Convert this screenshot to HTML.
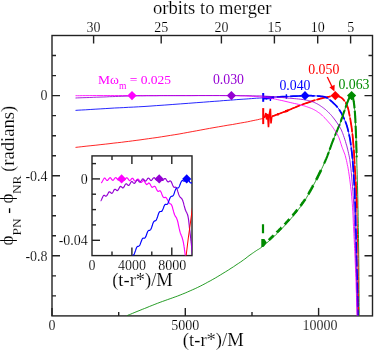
<!DOCTYPE html>
<html><head><meta charset="utf-8"><title>plot</title>
<style>
html,body{margin:0;padding:0;background:#fff;}
svg{display:block;font-family:"Liberation Serif",serif;will-change:transform;}
text[fill="#000"]{stroke:#fff;stroke-width:0.15px;}
</style></head><body>
<svg width="374" height="351" viewBox="0 0 374 351">
<rect width="374" height="351" fill="#fff"/>
<rect x="52" y="35.5" width="320.5" height="280.4" fill="none" stroke="#222" stroke-width="1.4"/>
<path d="M52 55.5 h4 M372.5 55.5 h-4" stroke="#222" stroke-width="1.4"/>
<path d="M52 75.6 h4 M372.5 75.6 h-4" stroke="#222" stroke-width="1.4"/>
<path d="M52 95.6 h8 M372.5 95.6 h-8" stroke="#222" stroke-width="1.4"/>
<path d="M52 115.6 h4 M372.5 115.6 h-4" stroke="#222" stroke-width="1.4"/>
<path d="M52 135.7 h4 M372.5 135.7 h-4" stroke="#222" stroke-width="1.4"/>
<path d="M52 155.7 h4 M372.5 155.7 h-4" stroke="#222" stroke-width="1.4"/>
<path d="M52 175.7 h8 M372.5 175.7 h-8" stroke="#222" stroke-width="1.4"/>
<path d="M52 195.8 h4 M372.5 195.8 h-4" stroke="#222" stroke-width="1.4"/>
<path d="M52 215.8 h4 M372.5 215.8 h-4" stroke="#222" stroke-width="1.4"/>
<path d="M52 235.8 h4 M372.5 235.8 h-4" stroke="#222" stroke-width="1.4"/>
<path d="M52 255.8 h8 M372.5 255.8 h-8" stroke="#222" stroke-width="1.4"/>
<path d="M52 275.9 h4 M372.5 275.9 h-4" stroke="#222" stroke-width="1.4"/>
<path d="M52 295.9 h4 M372.5 295.9 h-4" stroke="#222" stroke-width="1.4"/>
<path d="M52.0 315.9 v-8" stroke="#222" stroke-width="1.4"/>
<path d="M118.7 315.9 v-4" stroke="#222" stroke-width="1.4"/>
<path d="M185.3 315.9 v-8" stroke="#222" stroke-width="1.4"/>
<path d="M252.0 315.9 v-4" stroke="#222" stroke-width="1.4"/>
<path d="M318.6 315.9 v-8" stroke="#222" stroke-width="1.4"/>
<path d="M93.6 35.5 v8" stroke="#222" stroke-width="1.4"/>
<path d="M161.2 35.5 v8" stroke="#222" stroke-width="1.4"/>
<path d="M221.4 35.5 v8" stroke="#222" stroke-width="1.4"/>
<path d="M274.4 35.5 v8" stroke="#222" stroke-width="1.4"/>
<path d="M317.7 35.5 v8" stroke="#222" stroke-width="1.4"/>
<path d="M350.6 35.5 v8" stroke="#222" stroke-width="1.4"/>
<path d="M75.5 110.4 L78.1 110.2 L81.6 110.0 L85.7 109.8 L90.2 109.5 L95.1 109.2 L100.2 108.9 L105.2 108.6 L110.0 108.3 L114.6 108.0 L119.2 107.8 L123.7 107.6 L128.4 107.3 L133.3 107.1 L138.5 106.8 L144.0 106.5 L150.0 106.1 L156.7 105.6 L164.2 105.1 L172.2 104.5 L180.3 103.9 L188.5 103.3 L196.2 102.7 L203.3 102.2 L209.5 101.7 L214.8 101.3 L219.4 101.0 L223.4 100.6 L227.1 100.4 L230.5 100.1 L233.7 99.9 L236.8 99.6 L240.0 99.4 L243.1 99.2 L246.1 99.0 L248.8 98.8 L251.5 98.6 L254.1 98.4 L256.6 98.2 L259.3 98.1 L262.0 97.9 L264.8 97.7 L267.8 97.5 L270.7 97.4 L273.6 97.2 L276.6 97.0 L279.4 96.9 L282.3 96.7 L285.0 96.6 L287.7 96.5 L290.5 96.3 L293.2 96.2 L295.9 96.1 L298.4 96.0 L300.8 95.9 L303.0 95.9 L305.0 95.8 L306.7 95.8 L308.1 95.7 L309.3 95.7 L310.4 95.7 L311.3 95.7 L312.2 95.8 L313.1 95.8 L314.0 95.8 L314.9 95.8 L315.7 95.9 L316.5 95.9 L317.2 95.9 L317.9 96.0 L318.6 96.0 L319.3 96.1 L320.0 96.2 L320.7 96.3 L321.5 96.4 L322.2 96.4 L322.9 96.5 L323.7 96.6 L324.4 96.8 L325.2 97.1 L326.0 97.4 L326.8 97.8 L327.6 98.3 L328.5 98.9 L329.3 99.5 L330.2 100.2 L331.1 101.0 L331.9 101.7 L332.8 102.5 L333.7 103.3 L334.5 104.1 L335.4 105.0 L336.3 105.9 L337.1 106.9 L338.0 107.9 L338.8 109.0 L339.6 110.2 L340.4 111.5 L341.2 112.9 L342.0 114.4 L342.8 115.9 L343.6 117.5 L344.3 119.1 L345.0 120.7 L345.6 122.2 L346.2 123.7 L346.7 125.2 L347.1 126.6 L347.5 128.1 L347.9 129.6 L348.3 131.1 L348.6 132.6 L349.0 134.2 L349.3 135.8 L349.7 137.4 L350.0 139.1 L350.3 140.8 L350.5 142.5 L350.8 144.3 L351.0 146.1 L351.3 148.0 L351.5 149.9 L351.8 151.8 L352.0 153.8 L352.2 155.8 L352.4 157.9 L352.6 160.1 L352.8 162.5 L353.0 165.0 L353.2 167.7 L353.4 170.6 L353.6 173.6 L353.8 176.7 L354.0 179.9 L354.2 183.2 L354.4 186.6 L354.6 190.0 L354.8 193.5 L354.9 197.1 L355.0 200.9 L355.2 204.7 L355.3 208.5 L355.4 212.4 L355.5 216.2 L355.6 220.0 L355.7 223.7 L355.8 227.4 L355.9 231.0 L356.0 234.7 L356.0 238.4 L356.1 242.1 L356.2 246.0 L356.3 250.0 L356.4 254.2 L356.5 258.5 L356.7 263.0 L356.8 267.5 L356.9 272.0 L357.1 276.4 L357.2 280.8 L357.3 285.0 L357.4 289.2 L357.5 293.7 L357.6 298.1 L357.7 302.4 L357.7 306.5 L357.8 310.1 L357.9 313.2 L357.9 315.5" fill="none" stroke="#0000ff" stroke-width="0.85" />
<path d="M75.5 147.4 L78.2 147.1 L81.8 146.7 L86.1 146.2 L90.9 145.7 L95.9 145.2 L100.9 144.6 L105.7 144.1 L110.0 143.6 L113.9 143.1 L117.7 142.7 L121.4 142.3 L125.0 141.8 L128.6 141.4 L132.3 140.9 L136.1 140.4 L140.0 139.9 L144.1 139.3 L148.4 138.7 L152.7 138.1 L157.1 137.5 L161.5 136.8 L166.0 136.1 L170.4 135.4 L174.8 134.7 L179.1 134.0 L183.5 133.2 L187.8 132.4 L192.2 131.6 L196.5 130.8 L200.8 130.0 L205.2 129.2 L209.5 128.4 L214.0 127.6 L218.6 126.8 L223.3 126.0 L227.9 125.2 L232.5 124.5 L236.8 123.7 L240.7 123.0 L244.3 122.4 L247.5 121.8 L250.4 121.2 L253.1 120.6 L255.6 120.1 L257.7 119.7 L259.6 119.2 L261.2 118.9 L262.5 118.6 L263.0 118.4" fill="none" stroke="#ff0000" stroke-width="0.85" />
<path d="M127.3 315.5 L128.2 315.1 L129.4 314.6 L130.8 314.1 L132.4 313.4 L134.1 312.7 L136.0 311.9 L138.0 311.1 L140.0 310.3 L142.2 309.4 L144.5 308.5 L147.0 307.5 L149.6 306.4 L152.2 305.4 L154.9 304.3 L157.5 303.3 L160.1 302.3 L162.6 301.4 L165.1 300.5 L167.6 299.6 L170.2 298.7 L172.7 297.8 L175.2 296.9 L177.7 296.0 L180.2 295.0 L182.7 294.0 L185.2 293.0 L187.7 291.9 L190.2 290.8 L192.7 289.7 L195.2 288.6 L197.7 287.4 L200.2 286.2 L202.7 284.9 L205.2 283.6 L207.7 282.2 L210.2 280.9 L212.8 279.4 L215.3 278.0 L217.8 276.5 L220.3 275.0 L222.9 273.4 L225.5 271.8 L228.3 270.1 L231.0 268.3 L233.6 266.7 L236.0 265.0 L238.3 263.5 L240.3 262.2 L242.0 261.0 L243.5 259.9 L244.8 259.0 L246.0 258.1 L247.1 257.2 L248.0 256.5 L249.0 255.7 L250.0 255.0 L251.0 254.3 L251.9 253.7 L252.7 253.1 L253.5 252.6 L254.2 252.0 L255.0 251.6 L255.7 251.1 L256.4 250.6 L257.0 250.2 L257.6 249.8 L258.1 249.6 L258.6 249.3 L259.1 249.0 L259.7 248.5 L260.5 248.0 L261.4 247.3 L262.5 246.4 L263.8 245.4 L265.2 244.2 L266.6 243.0 L268.2 241.7 L269.7 240.4 L271.3 239.0 L272.8 237.6 L274.3 236.2 L275.8 234.7 L277.4 233.2 L278.9 231.7 L280.5 230.1 L282.0 228.5 L283.6 226.8 L285.1 225.2 L286.6 223.5 L288.2 221.8 L289.8 220.0 L291.3 218.2 L292.9 216.4 L294.4 214.6 L295.8 212.9 L297.1 211.2 L298.3 209.6 L299.5 208.1 L300.5 206.7 L301.6 205.3 L302.6 203.9 L303.6 202.4 L304.6 200.8 L305.6 199.2 L306.7 197.4 L307.7 195.6 L308.8 193.7 L309.9 191.8 L311.0 189.8 L312.1 187.8 L313.1 185.8 L314.2 183.8 L315.3 181.7 L316.4 179.5 L317.6 177.3 L318.7 175.0 L319.8 172.8 L320.8 170.6 L321.8 168.6 L322.7 166.7 L323.5 165.0 L324.1 163.6 L324.7 162.3 L325.3 161.0 L325.8 159.8 L326.3 158.5 L326.9 157.1 L327.5 155.5 L328.2 153.8 L328.8 151.9 L329.5 150.0 L330.3 148.0 L331.0 146.0 L331.7 144.0 L332.5 142.0 L333.2 140.0 L334.0 138.1 L334.8 136.1 L335.6 134.2 L336.4 132.2 L337.2 130.3 L338.0 128.4 L338.8 126.6 L339.5 124.8 L340.2 123.1 L340.8 121.4 L341.4 119.7 L341.9 118.1 L342.5 116.5 L343.0 114.9 L343.5 113.4 L344.0 112.0 L344.5 110.6 L345.0 109.2 L345.4 107.8 L345.9 106.5 L346.3 105.3 L346.7 104.1 L347.1 103.0 L347.5 102.0 L347.9 101.1 L348.2 100.3 L348.6 99.5 L348.9 98.9 L349.2 98.2 L349.5 97.7 L349.7 97.2 L350.0 96.8 L350.2 96.4 L350.5 96.1 L350.7 95.9 L350.9 95.7 L351.1 95.6 L351.2 95.6 L351.4 95.6 L351.6 95.6 L351.8 95.7 L352.0 95.8 L352.1 96.0 L352.3 96.3 L352.5 96.6 L352.7 97.0 L352.8 97.5 L353.0 98.0 L353.2 98.6 L353.3 99.4 L353.5 100.2 L353.6 101.1 L353.8 102.0 L353.9 103.0 L354.1 104.0 L354.2 105.0 L354.3 106.0 L354.4 107.1 L354.5 108.1 L354.6 109.2 L354.7 110.4 L354.8 111.6 L354.9 112.8 L355.0 114.0 L355.1 115.2 L355.2 116.3 L355.2 117.5 L355.3 118.6 L355.4 119.9 L355.4 121.4 L355.5 123.0 L355.6 125.0 L355.7 127.2 L355.8 129.5 L355.9 131.9 L356.0 134.6 L356.1 137.5 L356.2 140.6 L356.3 144.1 L356.4 148.0 L356.5 152.4 L356.7 157.4 L356.8 162.9 L357.0 168.6 L357.2 174.3 L357.3 179.9 L357.5 185.2 L357.6 190.0 L357.7 194.3 L357.8 198.3 L357.9 202.1 L357.9 205.8 L358.0 209.3 L358.1 212.8 L358.1 216.3 L358.2 220.0 L358.3 223.7 L358.3 227.4 L358.4 231.0 L358.5 234.7 L358.5 238.4 L358.6 242.1 L358.6 246.0 L358.7 250.0 L358.7 254.2 L358.8 258.5 L358.8 263.0 L358.9 267.5 L358.9 272.0 L358.9 276.4 L359.0 280.8 L359.0 285.0 L359.0 289.2 L359.1 293.7 L359.1 298.1 L359.1 302.4 L359.1 306.5 L359.2 310.1 L359.2 313.2 L359.2 315.5" fill="none" stroke="#008b00" stroke-width="0.85" />
<path d="M263.2 108.1 V124.1" stroke="#ff0000" stroke-width="2"/>
<path d="M264.3 118 L265.9 113 L266.6 119.5 L267.6 114 L268.5 127.3 L269.4 113.8 L270.4 108.7 L271 123.5 L271.8 116.5" fill="none" stroke="#ff0000" stroke-width="1.6" stroke-linejoin="miter"/>
<path d="M272.0 116.4 L273.0 116.0 L274.3 115.6 L275.8 115.0 L277.5 114.4 L279.3 113.7 L281.2 113.0 L283.1 112.3 L285.0 111.6 L286.9 110.9 L288.8 110.0 L290.8 109.2 L292.8 108.3 L294.9 107.5 L296.9 106.6 L299.0 105.8 L301.0 105.0 L303.0 104.2 L305.1 103.5 L307.2 102.8 L309.3 102.1 L311.4 101.4 L313.4 100.7 L315.3 100.1 L317.1 99.6 L318.8 99.1 L320.3 98.7 L321.8 98.3 L323.3 97.9 L324.6 97.6 L325.9 97.3 L327.1 97.1 L328.3 96.8 L329.4 96.6 L330.4 96.3 L331.4 96.1 L332.3 96.0 L333.1 95.8 L333.9 95.7 L334.6 95.6 L335.3 95.6 L335.9 95.6 L336.4 95.7 L336.9 95.7 L337.3 95.9 L337.7 96.0 L338.1 96.2 L338.5 96.4 L339.0 96.6 L339.5 96.8 L340.0 97.0 L340.5 97.2 L341.0 97.5 L341.5 97.8 L342.0 98.1 L342.5 98.6 L343.0 99.1 L343.5 99.7 L344.1 100.4 L344.7 101.2 L345.2 102.0 L345.8 102.9 L346.3 103.9 L346.8 104.9 L347.3 106.0 L347.7 107.2 L348.1 108.4 L348.4 109.7 L348.7 111.1 L349.0 112.5 L349.3 114.0 L349.6 115.5 L349.9 117.0 L350.2 118.6 L350.5 120.2 L350.7 121.8 L351.0 123.5 L351.3 125.2 L351.5 127.0 L351.8 128.8 L352.0 130.7 L352.2 132.7 L352.5 134.7 L352.7 136.7 L352.9 138.8 L353.1 141.0 L353.3 143.3 L353.5 145.6 L353.7 148.0 L353.9 150.5 L354.1 153.2 L354.2 156.0 L354.4 158.8 L354.5 161.7 L354.7 164.5 L354.8 167.3 L355.0 170.0 L355.2 172.5 L355.3 174.9 L355.5 177.2 L355.6 179.5 L355.8 181.9 L355.9 184.3 L356.1 187.0 L356.2 190.0 L356.3 193.3 L356.5 196.8 L356.6 200.5 L356.7 204.4 L356.8 208.3" fill="none" stroke="#ff0000" stroke-width="1.75" stroke-dasharray="14 2" />
<path d="M272.0 116.4 L273.0 116.0 L274.3 115.6 L275.8 115.0 L277.5 114.4 L279.3 113.7 L281.2 113.0 L283.1 112.3 L285.0 111.6 L286.9 110.9 L288.8 110.0 L290.8 109.2 L292.8 108.3 L294.9 107.5 L296.9 106.6 L299.0 105.8 L301.0 105.0 L303.0 104.2 L305.1 103.5 L307.2 102.8 L309.3 102.1 L311.4 101.4 L313.4 100.7 L315.3 100.1 L317.1 99.6 L318.8 99.1 L320.3 98.7 L321.8 98.3 L323.3 97.9 L324.6 97.6 L325.9 97.3 L327.1 97.1 L328.3 96.8 L329.4 96.6 L330.4 96.3 L331.4 96.1 L332.3 96.0 L333.1 95.8 L333.9 95.7 L334.6 95.6 L335.3 95.6 L335.9 95.6 L336.4 95.7 L336.9 95.7 L337.3 95.9 L337.7 96.0 L338.1 96.2 L338.5 96.4 L339.0 96.6 L339.5 96.8 L340.0 97.0 L340.5 97.2 L341.0 97.5 L341.5 97.8 L342.0 98.1 L342.5 98.6 L343.0 99.1 L343.5 99.7 L344.1 100.4 L344.7 101.2 L345.2 102.0 L345.8 102.9 L346.3 103.9 L346.8 104.9 L347.3 106.0 L347.7 107.2 L348.1 108.4 L348.4 109.7 L348.7 111.1 L349.0 112.5 L349.3 114.0 L349.6 115.5 L349.9 117.0 L350.2 118.6 L350.5 120.2 L350.7 121.8 L351.0 123.5 L351.3 125.2 L351.5 127.0 L351.8 128.8 L352.0 130.7 L352.2 132.7 L352.5 134.7 L352.7 136.7 L352.9 138.8 L353.1 141.0 L353.3 143.3 L353.5 145.6 L353.7 148.0 L353.9 150.5 L354.1 153.2 L354.2 156.0 L354.4 158.8 L354.5 161.7 L354.7 164.5 L354.8 167.3 L355.0 170.0 L355.2 172.5 L355.3 174.9 L355.5 177.2 L355.6 179.5 L355.8 181.9 L355.9 184.3 L356.1 187.0 L356.2 190.0 L356.3 193.3 L356.5 196.8 L356.6 200.5 L356.7 204.4 L356.8 208.3 L356.9 212.3 L357.0 216.2 L357.1 220.0 L357.2 223.7 L357.3 227.4 L357.4 231.0 L357.5 234.7 L357.6 238.4 L357.6 242.1 L357.7 246.0 L357.8 250.0 L357.9 254.2 L357.9 258.5 L358.0 263.0 L358.1 267.5 L358.1 272.0 L358.2 276.4 L358.2 280.8 L358.3 285.0 L358.3 289.2 L358.4 293.7 L358.4 298.1 L358.5 302.4 L358.5 306.5 L358.6 310.1 L358.6 313.2 L358.6 315.5" fill="none" stroke="#ff0000" stroke-width="1" />
<path d="M278 113 V115.6 M285.8 110 V112.6 M287.4 109.4 V112" stroke="#ff0000" stroke-width="1.6"/>
<path d="M263.2 93 V101.8" stroke="#0000ff" stroke-width="2"/>
<path d="M263.2 97.9 L264.8 97.7 L267.8 97.5 L270.7 97.4 L273.6 97.2 L276.6 97.0 L279.4 96.9 L282.3 96.7 L285.0 96.6 L287.7 96.5 L290.5 96.3 L293.2 96.2 L295.9 96.1 L298.4 96.0 L300.8 95.9 L303.0 95.9 L305.0 95.8 L306.7 95.8 L308.1 95.7 L309.3 95.7 L310.4 95.7 L311.3 95.7 L312.2 95.8 L313.1 95.8 L314.0 95.8 L314.9 95.8 L315.7 95.9 L316.5 95.9 L317.2 95.9 L317.9 96.0 L318.6 96.0 L319.3 96.1 L320.0 96.2 L320.7 96.3 L321.5 96.4 L322.2 96.4 L322.9 96.5 L323.7 96.6 L324.4 96.8 L325.2 97.1 L326.0 97.4 L326.8 97.8 L327.6 98.3 L328.5 98.9 L329.3 99.5 L330.2 100.2 L331.1 101.0 L331.9 101.7 L332.8 102.5 L333.7 103.3 L334.5 104.1 L335.4 105.0 L336.3 105.9 L337.1 106.9 L338.0 107.9 L338.8 109.0 L339.6 110.2 L340.4 111.5 L341.2 112.9 L342.0 114.4 L342.8 115.9 L343.6 117.5 L344.3 119.1 L345.0 120.7 L345.6 122.2 L346.2 123.7 L346.7 125.2 L347.1 126.6 L347.5 128.1 L347.9 129.6 L348.3 131.1 L348.6 132.6 L349.0 134.2 L349.3 135.8 L349.7 137.4 L350.0 139.1 L350.3 140.8 L350.5 142.5 L350.8 144.3 L351.0 146.1 L351.3 148.0 L351.5 149.9 L351.8 151.8 L352.0 153.8 L352.2 155.8 L352.4 157.9 L352.6 160.1 L352.8 162.5 L353.0 165.0 L353.2 167.7 L353.4 170.6 L353.6 173.6 L353.8 176.7 L354.0 179.9 L354.2 183.2 L354.4 186.6 L354.6 190.0 L354.8 193.5 L354.9 197.1 L355.0 200.9 L355.2 204.7 L355.3 208.5 L355.4 212.4 L355.5 216.2 L355.6 220.0 L355.7 223.7 L355.8 227.4 L355.9 231.0 L356.0 234.7 L356.0 238.4 L356.1 242.1 L356.2 246.0 L356.3 250.0 L356.4 254.2 L356.5 258.5 L356.7 263.0 L356.8 267.5 L356.9 272.0 L357.1 276.4 L357.2 280.8 L357.3 285.0 L357.4 289.2 L357.5 293.7 L357.6 298.1 L357.7 302.4 L357.7 306.5 L357.8 310.1 L357.9 313.2 L357.9 315.5" fill="none" stroke="#0000ff" stroke-width="1.75" stroke-dasharray="11 2.5" />
<path d="M270.4 97 V101 M286.4 94.2 V98.8 M266.5 96.5 V99.6" stroke="#0000ff" stroke-width="1.4"/>
<path d="M263.2 98 L274 97.5" stroke="#0000ff" stroke-width="2.8"/>
<path d="M263 224.2 V233.3 M263 239.5 V246" stroke="#008b00" stroke-width="2.2"/>
<polygon points="261.3,239 264.4,239 266.8,242.4 263.8,246.8 261.3,247.2" fill="#008b00"/>
<path d="M268.8 240.1 L269.0 239.9 L269.3 239.6 L269.5 239.4 L269.8 239.1 L270.0 238.9 L270.3 238.6 L270.6 238.4 L270.8 238.1 L271.1 237.8 L271.4 237.5 L271.7 237.2 L272.1 236.9 L272.4 236.6 L272.8 236.2 L273.2 235.8 L273.6 235.4 L273.7 235.3" fill="none" stroke="#008b00" stroke-width="2.6" />
<path d="M276.7 232.5 L277.0 232.1 L277.6 231.6 L278.1 231.1 L278.6 230.6 L279.2 230.0 L279.7 229.5 L280.3 228.9 L280.8 228.4 L281.3 227.8 L281.6 227.6" fill="none" stroke="#008b00" stroke-width="2.6" />
<path d="M284.6 224.4 L284.8 224.2 L285.4 223.6 L285.9 223.0 L286.5 222.3 L287.1 221.7 L287.7 221.1 L288.3 220.4 L288.8 219.8 L289.4 219.2 L289.5 219.1" fill="none" stroke="#008b00" stroke-width="2.6" />
<path d="M292.5 215.6 L293.0 215.1 L293.4 214.5 L293.9 213.9 L294.4 213.4 L294.9 212.8 L295.4 212.2 L295.9 211.6 L296.3 211.0 L296.8 210.4 L297.3 209.8 L297.4 209.7" fill="none" stroke="#008b00" stroke-width="2.6" />
<path d="M300.4 205.9 L300.7 205.5 L301.2 204.9 L301.7 204.2 L302.1 203.6 L302.6 202.9 L303.1 202.3 L303.6 201.6 L304.1 200.9 L304.6 200.1 L305.1 199.4 L305.3 199.1" fill="none" stroke="#008b00" stroke-width="2.6" />
<path d="M308.3 194.2 L308.8 193.4 L309.3 192.4 L309.9 191.5 L310.4 190.5 L310.9 189.6 L311.5 188.6 L312.0 187.6 L312.6 186.6 L313.1 185.6 L313.2 185.5" fill="none" stroke="#008b00" stroke-width="2.6" />
<path d="M316.2 179.8 L316.4 179.4 L317.0 178.3 L317.6 177.2 L318.1 176.0 L318.7 174.9 L319.2 173.8 L319.8 172.7 L320.3 171.6 L320.8 170.6 L321.1 170.0" fill="none" stroke="#008b00" stroke-width="2.6" />
<path d="M324.1 163.6 L324.4 162.9 L324.7 162.3 L325.0 161.6 L325.3 161.0 L325.5 160.4 L325.8 159.8 L326.1 159.1 L326.3 158.5 L326.6 157.8 L326.9 157.1 L327.2 156.3 L327.5 155.5 L327.8 154.6 L328.2 153.8 L328.5 152.9 L328.8 151.9 L329.2 151.0 L329.5 150.0 L329.9 149.0 L330.3 148.0 L330.6 147.0 L331.0 146.0 L331.3 145.0 L331.7 144.0 L332.1 142.9 L332.5 142.0 L332.8 141.0 L333.2 140.0 L333.6 139.0 L334.0 138.1 L334.4 137.1 L334.8 136.1 L335.2 135.1 L335.6 134.2 L336.0 133.2 L336.4 132.2 L336.8 131.3 L337.2 130.3 L337.6 129.4 L338.0 128.4 L338.4 127.5 L338.8 126.6 L339.2 125.7 L339.5 124.8 L339.8 123.9 L340.2 123.1 L340.5 122.2 L340.8 121.4 L341.1 120.5 L341.4 119.7 L341.6 118.9 L341.9 118.1 L342.2 117.3 L342.5 116.5 L342.7 115.7 L343.0 114.9 L343.2 114.2 L343.5 113.4 L343.7 112.7 L344.0 112.0 L344.2 111.3 L344.5 110.6 L344.7 109.9 L345.0 109.2 L345.2 108.5 L345.4 107.8 L345.7 107.2 L345.9 106.5 L346.1 105.9 L346.3 105.3 L346.5 104.7 L346.7 104.1 L346.9 103.5 L347.1 103.0 L347.3 102.5 L347.5 102.0 L347.7 101.5 L347.9 101.1 L348.0 100.7 L348.2 100.3 L348.4 99.9 L348.6 99.5 L348.7 99.2 L348.9 98.9 L349.0 98.5 L349.2 98.2 L349.3 98.0 L349.5 97.7 L349.6 97.5 L349.7 97.2 L349.9 97.0 L350.0 96.8 L350.1 96.6 L350.2 96.4 L350.4 96.3 L350.5 96.1 L350.6 96.0 L350.7 95.9 L350.8 95.8 L350.9 95.7 L351.0 95.7 L351.1 95.6 L351.1 95.6 L351.2 95.6 L351.3 95.5 L351.4 95.6 L351.5 95.6 L351.6 95.6 L351.7 95.6 L351.8 95.7 L351.9 95.8 L352.0 95.8 L352.1 95.9 L352.1 96.0 L352.2 96.2 L352.3 96.3 L352.4 96.4 L352.5 96.6 L352.6 96.8 L352.7 97.0 L352.8 97.2 L352.8 97.5 L352.9 97.7 L353.0 98.0 L353.1 98.3 L353.2 98.6 L353.2 99.0 L353.3 99.4 L353.4 99.8 L353.5 100.2 L353.6 100.6 L353.6 101.1 L353.7 101.6 L353.8 102.0 L353.9 102.5 L353.9 103.0 L354.0 103.5 L354.1 104.0 L354.1 104.5 L354.2 105.0 L354.3 105.5 L354.3 106.0 L354.4 106.5 L354.4 107.1 L354.5 107.6 L354.5 108.1 L354.6 108.7 L354.6 109.2 L354.7 109.8 L354.7 110.4 L354.8 111.0 L354.8 111.6 L354.9 112.2 L354.9 112.8 L355.0 113.4 L355.0 114.0 L355.0 114.6 L355.1 115.2 L355.1 115.8 L355.2 116.3 L355.2 116.9 L355.2 117.5 L355.3 118.0 L355.3 118.6 L355.3 119.2 L355.4 119.9 L355.4 120.6 L355.4 121.4 L355.5 122.2 L355.5 123.0 L355.6 124.0 L355.6 125.0 L355.6 126.1 L355.7 127.2 L355.7 128.3 L355.8 129.5 L355.8 130.7 L355.9 131.9 L355.9 133.2 L356.0 134.6 L356.0 136.0 L356.1 137.5 L356.1 139.0 L356.2 140.6 L356.2 142.3 L356.3 144.1 L356.3 146.0 L356.4 148.0 L356.5 150.1 L356.5 152.4 L356.6 154.9 L356.7 157.4" fill="none" stroke="#008b00" stroke-width="2.1" stroke-dasharray="12.5 2.5" />
<path d="M75.5 95.7 L77.3 95.7 L79.7 95.7 L82.6 95.6 L85.8 95.6 L89.2 95.6 L92.8 95.5 L96.4 95.5 L100.0 95.5 L103.5 95.5 L107.1 95.5 L110.7 95.5 L114.5 95.5 L118.5 95.5 L122.7 95.5 L127.2 95.5 L132.0 95.5 L137.2 95.5 L142.8 95.5 L148.7 95.5 L154.9 95.5 L161.2 95.5 L167.5 95.5 L173.8 95.5 L180.0 95.5 L186.4 95.5 L193.1 95.5 L199.9 95.5 L206.8 95.5 L213.4 95.5 L219.6 95.5 L225.2 95.6 L230.0 95.6 L234.0 95.6 L237.3 95.7 L240.0 95.8 L242.4 95.9 L244.4 95.9 L246.3 96.0 L248.1 96.1 L250.0 96.2 L251.9 96.3 L253.7 96.4 L255.3 96.5 L256.8 96.6 L258.1 96.7 L259.5 96.8 L260.7 96.9 L262.0 97.0 L263.1 97.1 L264.1 97.2 L264.9 97.3 L265.8 97.3 L266.6 97.4 L267.5 97.6 L268.6 97.8 L270.0 98.0 L271.6 98.3 L273.4 98.7 L275.4 99.1 L277.5 99.6 L279.6 100.1 L281.8 100.5 L283.9 101.0 L286.0 101.5 L288.1 102.0 L290.2 102.5 L292.4 103.0 L294.5 103.5 L296.6 103.9 L298.6 104.4 L300.4 104.9 L302.0 105.3 L303.4 105.7 L304.6 106.0 L305.7 106.4 L306.6 106.7 L307.5 107.0 L308.3 107.3 L309.2 107.6 L310.0 107.9 L310.8 108.2 L311.6 108.5 L312.3 108.8 L313.0 109.2 L313.7 109.5 L314.3 109.8 L315.0 110.2 L315.7 110.6 L316.4 111.0 L317.1 111.5 L317.8 112.0 L318.5 112.5 L319.3 113.0 L320.0 113.5 L320.7 114.1 L321.4 114.7 L322.1 115.3 L322.8 116.0 L323.5 116.7 L324.2 117.4 L325.0 118.2 L325.7 118.9 L326.4 119.7 L327.1 120.5 L327.8 121.3 L328.5 122.1 L329.2 122.9 L330.0 123.8 L330.7 124.6 L331.4 125.5 L332.1 126.4 L332.8 127.4 L333.5 128.4 L334.2 129.4 L334.9 130.5 L335.7 131.6 L336.4 132.7 L337.0 133.9 L337.7 135.1 L338.3 136.3 L338.9 137.6 L339.4 139.0 L339.9 140.4 L340.4 141.9 L340.8 143.3 L341.3 144.8 L341.7 146.2 L342.2 147.5 L342.6 148.7 L343.1 149.8 L343.5 150.9 L343.9 151.9 L344.3 153.0 L344.8 154.1 L345.2 155.5 L345.6 157.0 L346.0 158.7 L346.5 160.5 L346.9 162.4 L347.3 164.5 L347.8 166.6 L348.2 168.9 L348.6 171.4 L349.0 174.0 L349.4 176.8 L349.8 179.8 L350.2 182.9 L350.6 186.2 L351.0 189.6 L351.4 193.0 L351.7 196.5 L352.0 200.0 L352.3 203.6 L352.5 207.3 L352.8 211.2 L353.0 215.1 L353.2 218.9 L353.3 222.8 L353.5 226.5 L353.7 230.0 L353.9 233.3 L354.0 236.5 L354.2 239.5 L354.3 242.5 L354.5 245.5 L354.6 248.5 L354.8 251.7 L354.9 255.0 L355.1 258.5 L355.2 262.1 L355.4 265.9 L355.5 269.7 L355.7 273.5 L355.8 277.3 L356.0 281.2 L356.1 285.0 L356.2 289.0 L356.4 293.3 L356.5 297.7 L356.6 302.1 L356.7 306.3 L356.8 310.0 L356.9 313.1 L357.0 315.5" fill="none" stroke="#ff00ff" stroke-width="0.85" />
<path d="M75.5 98.0 L77.4 97.9 L79.9 97.8 L82.9 97.7 L86.2 97.6 L89.7 97.5 L93.3 97.3 L96.7 97.2 L100.0 97.1 L103.1 97.0 L106.2 96.9 L109.3 96.7 L112.5 96.6 L115.6 96.5 L118.7 96.4 L121.9 96.3 L125.0 96.2 L128.1 96.1 L131.1 96.1 L134.2 96.0 L137.2 95.9 L140.3 95.9 L143.4 95.9 L146.6 95.8 L150.0 95.8 L153.4 95.8 L156.6 95.8 L159.9 95.7 L163.3 95.7 L167.0 95.7 L170.9 95.7 L175.2 95.7 L180.0 95.7 L185.5 95.7 L191.8 95.7 L198.6 95.6 L205.7 95.6 L212.7 95.6 L219.5 95.6 L225.8 95.6 L231.4 95.6 L236.3 95.6 L240.9 95.7 L245.2 95.7 L249.1 95.7 L252.7 95.8 L256.1 95.9 L259.2 95.9 L262.0 96.0 L264.5 96.1 L266.5 96.2 L268.3 96.3 L269.7 96.4 L271.0 96.5 L272.3 96.6 L273.6 96.7 L275.0 96.8 L276.4 96.9 L277.8 97.0 L279.1 97.2 L280.3 97.3 L281.6 97.4 L282.9 97.6 L284.4 97.7 L286.0 97.9 L287.8 98.1 L289.8 98.2 L292.0 98.4 L294.2 98.6 L296.4 98.8 L298.4 99.0 L300.3 99.2 L302.0 99.4 L303.4 99.6 L304.6 99.8 L305.7 100.0 L306.6 100.2 L307.5 100.4 L308.3 100.6 L309.2 100.8 L310.0 101.0 L310.8 101.2 L311.6 101.5 L312.3 101.7 L313.0 101.9 L313.7 102.2 L314.3 102.5 L315.0 102.8 L315.7 103.1 L316.4 103.5 L317.1 103.8 L317.8 104.2 L318.5 104.6 L319.3 105.1 L320.0 105.5 L320.7 106.0 L321.4 106.5 L322.1 107.0 L322.8 107.5 L323.5 108.0 L324.2 108.6 L325.0 109.1 L325.7 109.7 L326.4 110.4 L327.1 111.0 L327.8 111.7 L328.5 112.4 L329.2 113.1 L330.0 113.8 L330.7 114.6 L331.4 115.4 L332.1 116.2 L332.8 117.1 L333.5 118.0 L334.3 119.0 L335.0 120.0 L335.8 121.0 L336.5 122.1 L337.2 123.1 L337.9 124.1 L338.5 125.1 L339.1 126.0 L339.6 126.8 L340.0 127.5 L340.4 128.2 L340.9 129.0 L341.3 129.9 L341.8 131.0 L342.3 132.3 L342.9 133.8 L343.5 135.6 L344.2 137.5 L344.8 139.5 L345.5 141.6 L346.1 143.8 L346.8 145.9 L347.3 148.0 L347.8 149.9 L348.2 151.7 L348.6 153.5 L349.0 155.3 L349.4 157.2 L349.8 159.5 L350.1 162.0 L350.5 165.0 L350.9 168.5 L351.3 172.6 L351.7 177.0 L352.1 181.7 L352.5 186.5 L352.9 191.2 L353.2 195.7 L353.5 200.0 L353.7 204.0 L353.9 208.0 L354.1 211.8 L354.2 215.6 L354.3 219.3 L354.5 223.0 L354.6 226.5 L354.7 230.0 L354.8 233.3 L355.0 236.5 L355.1 239.5 L355.2 242.5 L355.3 245.5 L355.5 248.5 L355.6 251.7 L355.7 255.0 L355.8 258.5 L356.0 262.1 L356.1 265.9 L356.2 269.7 L356.3 273.5 L356.5 277.3 L356.6 281.2 L356.7 285.0 L356.8 289.0 L356.9 293.3 L357.0 297.7 L357.1 302.1 L357.2 306.3 L357.3 310.0 L357.3 313.1 L357.4 315.5" fill="none" stroke="#9400d3" stroke-width="0.85" />
<polygon points="127.4,95.6 132.0,91.0 136.6,95.6 132.0,100.2" fill="#ff00ff"/>
<polygon points="226.8,95.6 231.4,91.0 236.0,95.6 231.4,100.2" fill="#9400d3"/>
<polygon points="300.4,95.7 305.0,91.1 309.6,95.7 305.0,100.3" fill="#0000ff"/>
<polygon points="330.7,95.6 335.3,91.0 339.9,95.6 335.3,100.2" fill="#ff0000"/>
<polygon points="347.0,95.6 351.6,91.0 356.2,95.6 351.6,100.2" fill="#008b00"/>
<path d="M327.3 77.0 L333.0 88.8" stroke="#ff0000" stroke-width="1.3"/>
<polygon points="334.4,91.6 329.4,87.2 334.7,84.8" fill="#ff0000"/>
<rect x="92" y="155.9" width="100" height="99.69999999999999" fill="#fff" stroke="#222" stroke-width="1.4"/>
<clipPath id="ic"><rect x="92" y="155.9" width="100" height="99.69999999999999"/></clipPath>
<path d="M92 163.6 h4" stroke="#222" stroke-width="1.4"/>
<path d="M92 178.9 h8" stroke="#222" stroke-width="1.4"/>
<path d="M92 194.2 h4" stroke="#222" stroke-width="1.4"/>
<path d="M92 209.6 h4" stroke="#222" stroke-width="1.4"/>
<path d="M92 224.9 h4" stroke="#222" stroke-width="1.4"/>
<path d="M92 240.3 h8" stroke="#222" stroke-width="1.4"/>
<path d="M112.0 255.6 v-4 M112.0 155.9 v4" stroke="#222" stroke-width="1.4"/>
<path d="M131.9 255.6 v-8 M131.9 155.9 v8" stroke="#222" stroke-width="1.4"/>
<path d="M151.8 255.6 v-4 M151.8 155.9 v4" stroke="#222" stroke-width="1.4"/>
<path d="M171.8 255.6 v-8 M171.8 155.9 v8" stroke="#222" stroke-width="1.4"/>
<g clip-path="url(#ic)">
<path d="M101.0 182.6 L101.1 182.6 L101.1 182.6 L101.2 182.6 L101.3 182.6 L101.4 182.5 L101.6 182.4 L101.7 182.3 L101.8 182.2 L101.9 182.0 L102.1 181.8 L102.2 181.6 L102.4 181.3 L102.5 181.0 L102.7 180.7 L102.8 180.4 L103.0 180.1 L103.2 179.8 L103.3 179.5 L103.5 179.2 L103.6 179.0 L103.8 178.7 L103.9 178.5 L104.1 178.3 L104.2 178.2 L104.4 178.1 L104.6 178.1 L104.8 178.1 L105.0 178.2 L105.2 178.4 L105.5 178.7 L105.7 179.0 L106.0 179.4 L106.3 179.8 L106.6 180.1 L106.9 180.4 L107.2 180.5 L107.5 180.4 L107.9 180.1 L108.2 179.7 L108.6 179.2 L109.0 178.6 L109.4 178.1 L109.8 177.8 L110.2 177.7 L110.6 177.9 L111.1 178.4 L111.5 179.1 L112.0 179.8 L112.5 180.2 L113.0 180.3 L113.6 179.9 L114.1 179.2 L114.7 178.3 L115.3 177.7 L115.9 177.6 L116.5 178.1 L117.1 179.0 L117.8 179.8 L118.4 180.2 L119.0 180.0 L119.6 179.2 L120.3 178.3 L120.9 177.7 L121.5 177.6 L122.1 178.1 L122.7 179.0 L123.3 179.8 L123.9 180.3 L124.5 180.2 L125.1 179.5 L125.7 178.6 L126.3 177.9 L126.9 177.8 L127.6 178.2 L128.2 179.1 L128.8 180.0 L129.4 180.6 L130.1 180.5 L130.7 179.9 L131.4 179.0 L132.1 178.4 L132.8 178.4 L133.4 179.1 L134.1 180.3 L134.9 181.1 L135.6 181.3 L136.3 180.7 L137.0 179.7 L137.7 179.1 L138.5 179.3 L139.2 180.2 L139.9 181.4 L140.6 182.3 L141.4 182.3 L142.1 181.6 L142.8 180.8 L143.5 180.5 L144.3 181.1 L145.0 182.4 L145.8 183.7 L146.6 184.5 L147.3 184.3 L148.1 183.5 L148.8 183.0 L149.6 183.4 L150.3 184.5 L151.1 186.0 L151.7 187.0 L152.4 187.4 L153.0 187.1 L153.6 186.6 L154.2 186.2 L154.7 186.2 L155.2 186.6 L155.6 187.2 L156.0 188.1 L156.4 189.0 L156.8 189.7 L157.1 190.4 L157.5 190.9 L157.8 191.2 L158.1 191.3 L158.4 191.3 L158.7 191.2 L159.0 191.1 L159.3 190.9 L159.7 190.8 L160.0 190.8 L160.4 191.0 L160.7 191.5 L161.1 192.2 L161.5 193.0 L161.8 194.0 L162.2 195.0 L162.6 195.9 L162.9 196.7 L163.3 197.2 L163.7 197.5 L164.0 197.6 L164.4 197.6 L164.7 197.5 L165.0 197.4 L165.3 197.4 L165.6 197.4 L165.9 197.5 L166.1 197.7 L166.3 198.0 L166.6 198.2 L166.7 198.5 L166.9 198.8 L167.1 199.1 L167.3 199.4 L167.5 199.8 L167.7 200.2 L167.8 200.6 L168.0 201.0 L168.3 201.5 L168.5 201.9 L168.7 202.4 L169.0 202.8 L169.3 203.2 L169.6 203.5 L169.9 203.6 L170.3 203.8 L170.6 203.9 L171.0 204.2 L171.3 204.6 L171.7 205.3 L172.1 206.2 L172.5 207.4 L172.8 208.8 L173.2 210.2 L173.6 211.7 L174.0 213.0 L174.3 214.1 L174.7 215.0 L175.1 215.7 L175.4 216.4 L175.8 216.9 L176.2 217.5 L176.6 218.1 L176.9 219.0 L177.3 220.1 L177.7 221.5 L178.1 223.1 L178.4 224.8 L178.8 226.5 L179.1 228.2 L179.5 229.7 L179.8 231.1 L180.1 232.2 L180.4 233.2 L180.7 233.9 L180.9 234.6 L181.2 235.2 L181.4 235.7 L181.7 236.3 L181.9 236.9 L182.1 237.5 L182.3 238.1 L182.5 238.8 L182.7 239.6 L182.9 240.4 L183.1 241.2 L183.3 242.1 L183.5 243.0 L183.6 244.0 L183.8 244.9 L184.0 245.9 L184.1 246.9 L184.3 247.9 L184.4 248.9 L184.5 249.9 L184.7 250.8 L184.8 251.7 L184.9 252.6 L185.0 253.4 L185.1 254.1 L185.2 254.8 L185.3 255.5 L185.4 256.0 L185.5 256.5 L185.5 257.0 L185.6 257.3" fill="none" stroke="#ff00ff" stroke-width="1.15" />
<path d="M100.6 200.9 L100.8 200.8 L101.0 200.5 L101.2 200.2 L101.5 199.7 L101.8 199.0 L102.1 198.3 L102.5 197.4 L102.8 196.7 L103.2 196.0 L103.6 195.5 L104.0 195.3 L104.4 195.4 L104.8 195.6 L105.2 195.9 L105.6 196.1 L106.0 196.2 L106.4 196.1 L106.8 195.7 L107.3 194.9 L107.7 194.1 L108.2 193.2 L108.6 192.4 L109.1 191.9 L109.6 191.9 L110.1 192.1 L110.6 192.6 L111.1 193.1 L111.6 193.3 L112.1 193.2 L112.6 192.6 L113.2 191.7 L113.7 190.6 L114.2 189.7 L114.8 189.2 L115.4 189.2 L115.9 189.6 L116.5 190.2 L117.1 190.6 L117.7 190.4 L118.3 189.7 L118.9 188.6 L119.5 187.5 L120.1 186.6 L120.7 186.4 L121.3 186.7 L121.9 187.3 L122.5 187.8 L123.1 187.8 L123.7 187.4 L124.3 186.4 L124.8 185.3 L125.4 184.3 L126.0 183.8 L126.6 183.9 L127.2 184.3 L127.7 185.0 L128.3 185.3 L128.9 185.3 L129.5 184.6 L130.1 183.6 L130.7 182.5 L131.3 181.7 L131.9 181.5 L132.5 181.9 L133.1 182.6 L133.8 183.3 L134.4 183.4 L135.1 182.8 L135.8 181.7 L136.4 180.6 L137.1 180.0 L137.8 180.2 L138.5 180.9 L139.1 181.7 L139.8 182.1 L140.4 181.8 L141.0 181.0 L141.7 180.0 L142.2 179.2 L142.8 178.9 L143.3 179.0 L143.8 179.5 L144.3 180.1 L144.8 180.7 L145.2 181.0 L145.6 181.1 L146.1 180.8 L146.5 180.3 L146.9 179.7 L147.3 179.1 L147.7 178.5 L148.1 178.2 L148.6 178.1 L149.0 178.4 L149.5 178.9 L150.0 179.6 L150.5 180.3 L151.1 180.6 L151.6 180.3 L152.2 179.6 L152.8 178.7 L153.5 177.9 L154.1 177.7 L154.7 178.0 L155.3 178.9 L155.9 179.7 L156.5 180.2 L157.1 180.2 L157.7 179.6 L158.2 178.8 L158.7 178.1 L159.2 177.7 L159.7 177.6 L160.1 177.8 L160.5 178.3 L160.9 178.9 L161.3 179.5 L161.7 180.0 L162.0 180.4 L162.4 180.5 L162.7 180.5 L163.0 180.3 L163.4 180.0 L163.7 179.6 L164.0 179.2 L164.3 178.8 L164.7 178.6 L165.0 178.5 L165.3 178.6 L165.7 178.8 L166.0 179.2 L166.3 179.7 L166.6 180.2 L166.9 180.7 L167.2 181.2 L167.5 181.6 L167.8 181.8 L168.1 182.0 L168.4 182.0 L168.7 181.8 L169.0 181.6 L169.4 181.3 L169.7 181.1 L170.1 180.9 L170.5 181.0 L170.9 181.3 L171.3 181.9 L171.7 182.8 L172.2 183.9 L172.6 185.0 L173.1 186.1 L173.5 186.8 L174.0 187.2 L174.4 187.3 L174.9 187.2 L175.3 187.1 L175.7 187.2 L176.1 187.5 L176.5 188.0 L176.9 188.8 L177.3 189.7 L177.6 190.8 L177.9 191.9 L178.3 193.0 L178.6 194.0 L178.9 194.9 L179.2 195.6 L179.5 196.2 L179.8 196.7 L180.0 197.0 L180.3 197.3 L180.6 197.5 L180.8 197.7 L181.1 197.9 L181.3 198.1 L181.5 198.3 L181.7 198.6 L181.9 198.9 L182.1 199.2 L182.2 199.5 L182.4 199.8 L182.5 200.1 L182.7 200.5 L182.8 200.8 L182.9 201.1 L183.0 201.5 L183.2 201.8 L183.3 202.2 L183.4 202.6 L183.5 203.1 L183.7 203.6 L183.8 204.1 L183.9 204.7 L184.1 205.3 L184.2 205.9 L184.4 206.4 L184.5 207.0 L184.7 207.5 L184.8 208.1 L185.0 208.5 L185.1 209.0 L185.2 209.5 L185.4 209.9 L185.5 210.2 L185.7 210.6 L185.8 210.9 L186.0 211.2 L186.1 211.5 L186.2 211.8 L186.4 212.0 L186.5 212.3 L186.7 212.6 L186.8 212.9 L187.0 213.2 L187.1 213.5 L187.3 213.9 L187.4 214.3 L187.6 214.8 L187.7 215.2 L187.8 215.8 L188.0 216.3 L188.1 216.9 L188.2 217.5 L188.3 218.1 L188.4 218.7 L188.5 219.3 L188.6 219.9 L188.7 220.5 L188.7 221.0 L188.8 221.6 L188.9 222.2 L188.9 222.8 L189.0 223.4 L189.1 224.0 L189.1 224.6 L189.2 225.2 L189.3 225.9 L189.3 226.6 L189.4 227.3 L189.5 228.1 L189.6 228.8 L189.7 229.7 L189.8 230.5 L189.9 231.4 L190.0 232.3 L190.1 233.2 L190.2 234.1 L190.3 234.9 L190.4 235.8 L190.5 236.7 L190.6 237.5 L190.7 238.3 L190.8 239.0 L190.8 239.7 L190.9 240.4 L191.0 241.0 L191.1 241.6 L191.1 242.2 L191.2 242.8 L191.3 243.3 L191.3 243.8 L191.4 244.3 L191.4 244.8 L191.5 245.3 L191.5 245.8 L191.5 246.3 L191.6 246.7 L191.6 247.2 L191.7 247.6 L191.7 248.1 L191.8 248.5 L191.8 249.0 L191.8 249.4 L191.9 249.8 L191.9 250.3 L192.0 250.7 L192.0 251.2 L192.1 251.6 L192.1 252.1 L192.2 252.5 L192.2 252.9 L192.2 253.3 L192.3 253.7 L192.3 254.0 L192.3 254.4 L192.4 254.7 L192.4 254.9 L192.4 255.1" fill="none" stroke="#9400d3" stroke-width="1.15" />
<path d="M132.3 255.5 L132.6 255.5 L132.9 255.4 L133.2 255.3 L133.6 255.0 L134.1 254.4 L134.5 253.4 L135.0 252.0 L135.6 250.4 L136.1 248.8 L136.6 247.5 L137.2 246.7 L137.8 246.3 L138.3 246.3 L138.9 246.1 L139.5 245.7 L140.0 244.7 L140.5 243.4 L141.1 241.8 L141.7 240.2 L142.2 239.0 L142.8 238.3 L143.4 238.1 L144.0 238.2 L144.6 238.1 L145.2 237.6 L145.9 236.4 L146.5 234.7 L147.1 233.0 L147.7 231.5 L148.4 230.6 L149.0 230.3 L149.6 230.3 L150.2 230.1 L150.9 229.3 L151.5 227.8 L152.2 225.8 L152.8 223.7 L153.5 222.1 L154.2 221.2 L154.9 220.9 L155.5 220.7 L156.2 220.1 L156.8 218.8 L157.5 217.0 L158.1 215.0 L158.7 213.3 L159.3 212.2 L159.9 211.6 L160.5 211.5 L161.0 211.5 L161.5 211.4 L162.0 211.0 L162.5 210.1 L163.0 209.0 L163.5 207.7 L163.9 206.5 L164.4 205.5 L164.9 204.7 L165.3 204.4 L165.8 204.3 L166.3 204.4 L166.8 204.5 L167.3 204.3 L167.8 203.6 L168.3 202.5 L168.9 200.9 L169.5 199.2 L170.1 197.7 L170.7 196.8 L171.3 196.4 L171.9 196.3 L172.5 196.2 L173.1 195.7 L173.7 194.7 L174.3 193.1 L174.8 191.4 L175.4 189.9 L175.9 188.8 L176.4 188.2 L176.9 188.0 L177.4 188.0 L177.8 188.0 L178.2 187.9 L178.6 187.6 L179.0 187.0 L179.4 186.2 L179.8 185.3 L180.2 184.3 L180.5 183.3 L180.9 182.4 L181.2 181.7 L181.5 181.2 L181.8 180.8 L182.1 180.6 L182.3 180.6 L182.6 180.6 L182.8 180.7 L183.1 180.8 L183.3 180.9 L183.4 180.9 L183.6 181.0 L183.8 181.1 L183.9 181.1 L184.0 181.1 L184.2 181.1 L184.3 181.1 L184.4 181.0 L184.5 181.0 L184.6 180.9 L184.8 180.8 L184.9 180.6 L185.0 180.5 L185.1 180.3 L185.2 180.1 L185.4 179.9 L185.5 179.7 L185.6 179.5 L185.7 179.3 L185.8 179.1 L185.9 178.9 L186.0 178.7 L186.0 178.6 L186.1 178.4 L186.2 178.3 L186.4 178.1 L186.5 178.0 L186.6 177.9 L186.7 177.8 L186.8 177.7 L187.0 177.6 L187.1 177.6 L187.2 177.6 L187.3 177.7 L187.5 177.8 L187.6 177.9 L187.7 178.0 L187.9 178.2 L188.0 178.5 L188.2 178.7 L188.3 179.0 L188.5 179.4 L188.7 179.8 L188.8 180.2 L189.0 180.6 L189.2 181.0 L189.4 181.4 L189.6 181.9 L189.9 182.3 L190.1 182.6 L190.3 182.8 L190.6 182.9 L190.8 183.0 L191.1 183.0 L191.3 182.9 L191.6 182.9 L191.8 182.9 L192.0 182.9 L192.1 182.9 L192.3 182.9 L192.4 183.0" fill="none" stroke="#0000ff" stroke-width="1.15" />
<path d="M192.6 206.5 L190.4 223.0 L188.3 238.0 L186.1 256.0" fill="none" stroke="#ff0000" stroke-width="1" />
</g>
<polygon points="117.0,178.9 121.6,174.3 126.2,178.9 121.6,183.5" fill="#ff00ff"/>
<polygon points="154.6,178.9 159.2,174.3 163.8,178.9 159.2,183.5" fill="#9400d3"/>
<polygon points="182.1,178.9 186.7,174.3 191.3,178.9 186.7,183.5" fill="#0000ff"/>
<text x="93.6" y="32" font-size="14" text-anchor="middle" fill="#000" >30</text>
<text x="161.2" y="32" font-size="14" text-anchor="middle" fill="#000" >25</text>
<text x="221.4" y="32" font-size="14" text-anchor="middle" fill="#000" >20</text>
<text x="274.4" y="32" font-size="14" text-anchor="middle" fill="#000" >15</text>
<text x="317.7" y="32" font-size="14" text-anchor="middle" fill="#000" >10</text>
<text x="350.8" y="32" font-size="14" text-anchor="middle" fill="#000" >5</text>
<text x="212.2" y="13.8" font-size="18.6" text-anchor="middle" fill="#000" >orbits to merger</text>
<text x="52" y="330.1" font-size="14" text-anchor="middle" fill="#000" >0</text>
<text x="185.2" y="330.1" font-size="14" text-anchor="middle" fill="#000" >5000</text>
<text x="320" y="330.1" font-size="14" text-anchor="middle" fill="#000" >10000</text>
<text x="213.3" y="346.3" font-size="18.6" text-anchor="middle" fill="#000" >(t-r*)/M</text>
<text x="47.6" y="100.3" font-size="14" text-anchor="end" fill="#000" >0</text>
<text x="47.6" y="180.5" font-size="14" text-anchor="end" fill="#000" >-0.4</text>
<text x="47.6" y="260.7" font-size="14" text-anchor="end" fill="#000" >-0.8</text>
<text x="92" y="269.6" font-size="14" text-anchor="middle" fill="#000" >0</text>
<text x="131.9" y="269.6" font-size="14" text-anchor="middle" fill="#000" >4000</text>
<text x="172.3" y="269.6" font-size="14" text-anchor="middle" fill="#000" >8000</text>
<text x="87.8" y="183.7" font-size="14" text-anchor="end" fill="#000" >0</text>
<text x="87.8" y="245.3" font-size="14" text-anchor="end" fill="#000" >-0.04</text>
<text x="142.5" y="286" font-size="18.5" text-anchor="middle" fill="#000" >(t-r*)/M</text>
<text x="98" y="84.3" font-size="13.5" fill="#ff00ff">Mω<tspan font-size="9.5" dy="4.5">m</tspan><tspan dy="-4.5"> = 0.025</tspan></text>
<text x="228.5" y="83.8" font-size="13.8" text-anchor="middle" fill="#9400d3" >0.030</text>
<text x="295" y="89.6" font-size="13.8" text-anchor="middle" fill="#0000ff" >0.040</text>
<text x="323.8" y="74.4" font-size="13.8" text-anchor="middle" fill="#ff0000" >0.050</text>
<text x="354" y="88.8" font-size="13.8" text-anchor="middle" fill="#008b00" >0.063</text>
<text transform="translate(13.0,240.4) rotate(-90)" font-size="19.2" text-anchor="middle" fill="#000">ϕ</text>
<text transform="translate(21.2,226.9) rotate(-90)" font-size="13.4" text-anchor="middle" fill="#000">PN</text>
<text transform="translate(13.9,210.6) rotate(-90)" font-size="18.6" text-anchor="middle" fill="#000">-</text>
<text transform="translate(13.0,198.4) rotate(-90)" font-size="19.2" text-anchor="middle" fill="#000">ϕ</text>
<text transform="translate(21.2,184.8) rotate(-90)" font-size="13.4" text-anchor="middle" fill="#000">NR</text>
<text transform="translate(13.8,138.8) rotate(-90)" font-size="18.6" text-anchor="middle" fill="#000">(radians)</text>
</svg>
</body></html>
